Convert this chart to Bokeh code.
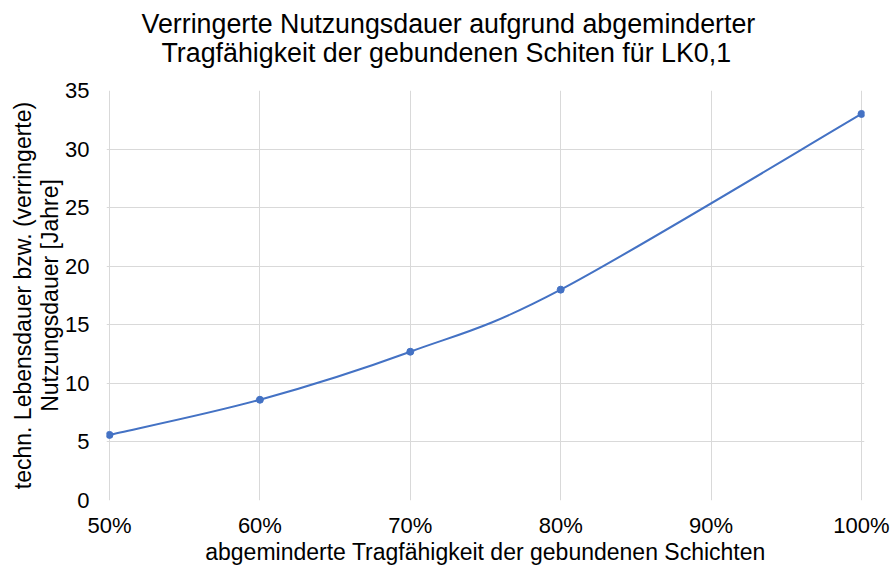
from bokeh.plotting import figure
from bokeh.models import Title, FixedTicker, NumeralTickFormatter, Range1d
from bokeh.embed import file_html
from bokeh.resources import INLINE

# data
share = [0.5, 0.6, 0.7, 0.8, 1.0]
years = [5.6, 8.6, 12.7, 18.0, 33.0]
x_ticks = [0.5, 0.6, 0.7, 0.8, 0.9, 1.0]
y_ticks = [0, 5, 10, 15, 20, 25, 30, 35]
title_1 = "Verringerte Nutzungsdauer aufgrund abgeminderter"
title_2 = "Tragfähigkeit der gebundenen Schiten für LK0,1"
x_label = "abgeminderte Tragfähigkeit der gebundenen Schichten"
y_label = "techn. Lebensdauer bzw. (verringerte)\nNutzungsdauer [Jahre]"

FONT = "Liberation Sans"
BLUE = "#4472C4"
GRID = "#d9d9d9"
PAD = 0.002

p = figure(frame_width=758, frame_height=410, output_backend="svg",
           toolbar_location=None,
           x_range=Range1d(0.5 - PAD, 1.0 + PAD), y_range=Range1d(0, 35),
           min_border_left=106, min_border_right=26, min_border_top=90,
           min_border_bottom=0)
p.outline_line_color = None

# blank spacer between the frame and the title lines
p.add_layout(Title(text=" ", text_font=FONT, text_font_size="10px",
                   standoff=10), "above")
# title lines (line 2 added first -> closer to frame)
for txt, off, st in [(title_2, 55, 0), (title_1, 35, -7)]:
    p.add_layout(Title(text=txt, align="left", offset=off, text_font=FONT,
                       text_font_size="26.8px", text_font_style="normal",
                       text_color="#000000", standoff=st), "above")

# Excel-like smoothing: Catmull-Rom bezier segments
n = len(share)
x0, y0, x1, y1, cx0, cy0, cx1, cy1 = [], [], [], [], [], [], [], []
for i in range(n - 1):
    pm = i - 1 if i > 0 else 0
    pn = i + 2 if i + 2 < n else n - 1
    x0.append(share[i]); y0.append(years[i])
    x1.append(share[i + 1]); y1.append(years[i + 1])
    cx0.append(share[i] + (share[i + 1] - share[pm]) / 6)
    cy0.append(years[i] + (years[i + 1] - years[pm]) / 6)
    cx1.append(share[i + 1] - (share[pn] - share[i]) / 6)
    cy1.append(years[i + 1] - (years[pn] - years[i]) / 6)
p.bezier(x0=x0, y0=y0, x1=x1, y1=y1, cx0=cx0, cy0=cy0, cx1=cx1, cy1=cy1,
         line_color=BLUE, line_width=2)
p.scatter(share, years, size=7, fill_color=BLUE, line_color=BLUE)

# axes
p.xaxis.ticker = FixedTicker(ticks=x_ticks)
p.xaxis.formatter = NumeralTickFormatter(format="0%")
p.yaxis.ticker = FixedTicker(ticks=y_ticks)
for ax in (p.xaxis[0], p.yaxis[0]):
    ax.axis_line_color = None
    ax.major_tick_line_color = None
    ax.minor_tick_line_color = None
    ax.major_tick_out = 0
    ax.major_tick_in = 0
    ax.minor_tick_out = 0
    ax.minor_tick_in = 0
    ax.major_label_text_font = FONT
    ax.major_label_text_font_size = "22px"
    ax.major_label_text_color = "#000000"
    ax.axis_label_text_font = FONT
    ax.axis_label_text_font_size = "23px"
    ax.axis_label_text_font_style = "normal"
    ax.axis_label_text_color = "#000000"
p.xaxis.axis_label = x_label
p.yaxis.axis_label = y_label
p.yaxis.axis_label_text_line_height = 1.05
p.xaxis.major_label_standoff = 12
p.xaxis.axis_label_standoff = -2
p.yaxis.major_label_standoff = 17
p.yaxis.axis_label_standoff = -1

p.xgrid.grid_line_color = GRID
p.ygrid.grid_line_color = GRID
p.xgrid.ticker = FixedTicker(ticks=x_ticks)
p.ygrid.ticker = FixedTicker(ticks=y_ticks)

open("out.html", "w").write(file_html(p, INLINE))
